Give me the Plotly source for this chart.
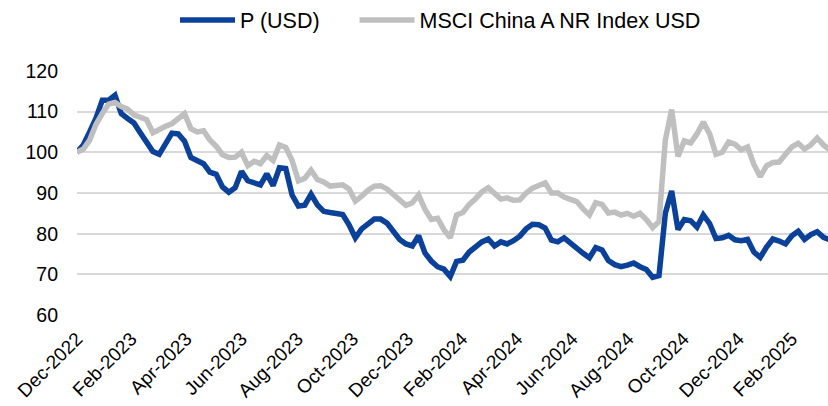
import pandas as pd
import plotly.graph_objects as go

# Weekly observations (Fridays) starting 30-Dec-2022, indexed to 100
dates = pd.date_range("2022-12-30", periods=120, freq="7D")

p_usd = [
    100, 101.8, 105, 108.4, 112.8, 112.8, 114, 109.5, 108.3, 107.2,
    104.8, 102.5, 100.2, 99.5, 102.2, 104.7, 104.5, 102.7, 98.7, 98.1,
    97.2, 95.1, 94.6, 91.5, 90.2, 91.3, 95.3, 93, 92.4, 92,
    94.7, 91.8, 96.2, 96, 89.5, 86.8, 87, 89.7, 87.1, 85.5,
    85.2, 85.1, 84.7, 82.2, 79, 81.2, 82.3, 83.6, 83.6, 82.6,
    80.6, 78.6, 77.5, 77, 79.5, 75.3, 73.3, 71.9, 71.3, 69.5,
    73.2, 73.5, 75.5, 76.9, 78, 78.7, 77, 78, 77.5, 78.3,
    79.4, 81.2, 82.3, 82.2, 81.4, 78.4, 78, 79, 77.6, 76.4,
    75.2, 74.1, 76.6, 76, 73.4, 72.4, 71.9, 72.3, 72.8, 71.9,
    71.2, 69.3, 69.7, 85, 90.5, 81, 83.5, 83.2, 81.6, 84.6,
    82.5, 78.8, 79, 79.6, 78.5, 78.3, 78.6, 75.5, 74.2, 76.7,
    78.7, 78.2, 77.5, 79.5, 80.6, 78.6, 79.8, 80.5, 79.1, 78.5,
]

msci_china_a = [
    100, 100.8, 103, 106.8, 109.5, 111.8, 112.2, 111.2, 110.6, 109.2,
    108.6, 108, 104.8, 105.8, 106.4, 107, 108.2, 109.5, 105.8, 105,
    105.3, 103, 101.5, 99.4, 98.7, 98.8, 100, 96.7, 97.8, 97.2,
    99.2, 98, 101.8, 101.2, 98, 93, 93.6, 95.6, 93.3, 92.7,
    91.7, 92, 92, 91, 88, 89.2, 90.7, 91.7, 91.8, 91,
    89.8, 88.2, 87, 87.6, 89.5, 86, 83.5, 83.8, 81, 79,
    84.6, 85.2, 87.2, 88.6, 90.3, 91.3, 90, 88.5, 88.8, 88.2,
    88.3, 90, 91.2, 92, 92.5, 90, 90, 89, 88.3, 87.9,
    86.1, 84.6, 87.6, 87.2, 85.1, 85.3, 84.6, 85, 84.3, 85,
    83.5, 81.5, 83, 103, 110.5, 99, 102.8, 102.3, 104.5, 107.4,
    104.5, 99.5, 100, 102.5, 102, 100.6, 101.3, 97, 94, 96.7,
    97.5, 97.6, 99.5, 101.3, 102.2, 100.8, 101.8, 103.5, 101.8, 100.6,
]

tick_dates = [
    "2022-12-30", "2023-02-28", "2023-04-30", "2023-06-30", "2023-08-31",
    "2023-10-31", "2023-12-31", "2024-02-29", "2024-04-30", "2024-06-30",
    "2024-08-31", "2024-10-31", "2024-12-31", "2025-02-28",
]
tick_labels = [
    "Dec-2022", "Feb-2023", "Apr-2023", "Jun-2023", "Aug-2023", "Oct-2023",
    "Dec-2023", "Feb-2024", "Apr-2024", "Jun-2024", "Aug-2024", "Oct-2024",
    "Dec-2024", "Feb-2025",
]
y_ticks = [60, 70, 80, 90, 100, 110, 120]

FONT = "Liberation Sans, Arial, sans-serif"
PAD = "\u00a0" * 5  # spacing between legend entries

fig = go.Figure()
fig.add_trace(go.Scatter(
    x=dates, y=p_usd, mode="lines", name="P (USD)" + PAD,
    line=dict(color="#0B4199", width=5.5),
))
fig.add_trace(go.Scatter(
    x=dates, y=msci_china_a, mode="lines", name="MSCI China A NR Index USD",
    line=dict(color="#BFBFBF", width=5.5),
))

fig.update_layout(
    width=828, height=406,
    margin=dict(l=77, r=0, t=70, b=90, autoexpand=False),
    plot_bgcolor="white", paper_bgcolor="white",
    font=dict(family=FONT, size=18, color="#000000"),
    showlegend=True,
    hovermode=False,
    legend=dict(
        orientation="h", xref="container", yref="container",
        x=175 / 828, xanchor="left", y=1 - 20 / 406, yanchor="middle",
        font=dict(size=21.5), bgcolor="rgba(0,0,0,0)",
        itemwidth=55, tracegroupgap=0,
    ),
)
fig.update_xaxes(
    type="date",
    range=["2022-12-30", "2025-04-09"],
    tickmode="array", tickvals=tick_dates, ticktext=tick_labels,
    tickangle=-45, showgrid=False, zeroline=False, showline=False,
    ticks="", tickfont=dict(size=19), ticklabelstandoff=7,
)
fig.update_yaxes(
    range=[59.8, 120.2],
    tickmode="array", tickvals=y_ticks,
    showgrid=True, gridcolor="#D9D9D9", gridwidth=2,
    zeroline=False, showline=False, ticks="",
    ticklabelstandoff=18, tickfont=dict(size=19.5),
)

fig.write_html(
    "out.html",
    config={"displayModeBar": False},
    post_script="document.body.style.margin='0px';",
)
